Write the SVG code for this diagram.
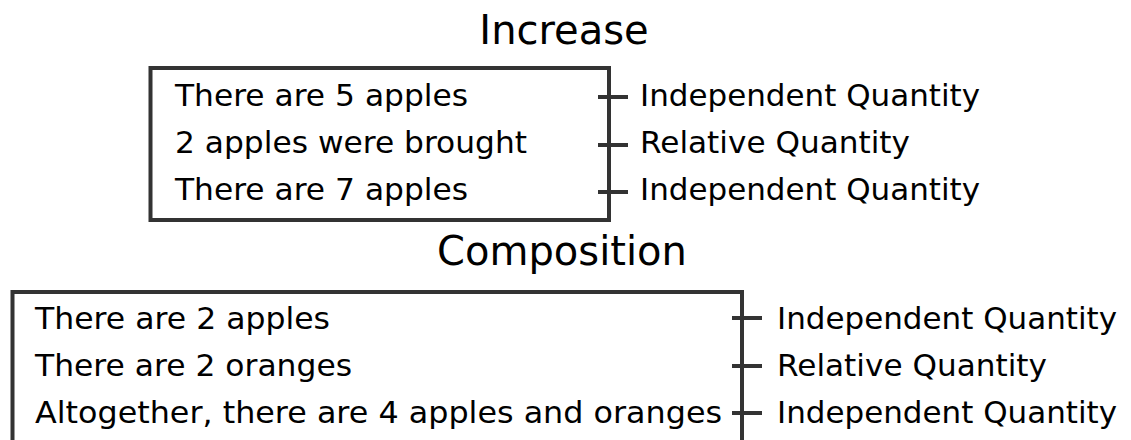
<svg xmlns="http://www.w3.org/2000/svg" width="1131" height="440" viewBox="0 0 1131 440">
  <style>
    .t { font-family: "DejaVu Sans", Verdana, sans-serif; fill: #000; }
    .title { font-size: 40px; text-anchor: middle; }
    .body { font-size: 31px; }
    .box { fill: #fff; stroke: #333; stroke-width: 4; }
    .tick { stroke: #333; stroke-width: 4; fill: none; }
  </style>
  <rect width="1131" height="440" fill="#fff"/>

  <g id="title-increase"><text class="t title" x="564" y="44">Increase</text></g>

  <g id="box-increase">
    <rect class="box" x="150.5" y="68" width="458.5" height="152"/>
    <text class="t body" x="175" y="106" textLength="293" lengthAdjust="spacingAndGlyphs">There are 5 apples</text>
    <text class="t body" x="175" y="153" textLength="352" lengthAdjust="spacingAndGlyphs">2 apples were brought</text>
    <text class="t body" x="175" y="200" textLength="293" lengthAdjust="spacingAndGlyphs">There are 7 apples</text>
  </g>

  <g id="label-inc-1"><text class="t body" x="640" y="106" textLength="340" lengthAdjust="spacingAndGlyphs">Independent Quantity</text></g>
  <g id="label-inc-2"><text class="t body" x="640" y="153" textLength="270" lengthAdjust="spacingAndGlyphs">Relative Quantity</text></g>
  <g id="label-inc-3"><text class="t body" x="640" y="200" textLength="340" lengthAdjust="spacingAndGlyphs">Independent Quantity</text></g>

  <g id="title-composition"><text class="t title" x="562" y="265">Composition</text></g>

  <g id="box-composition">
    <rect class="box" x="12.5" y="292" width="729.5" height="170"/>
    <text class="t body" x="35" y="329" textLength="295" lengthAdjust="spacingAndGlyphs">There are 2 apples</text>
    <text class="t body" x="35" y="376" textLength="317" lengthAdjust="spacingAndGlyphs">There are 2 oranges</text>
    <text class="t body" x="35" y="423" textLength="687" lengthAdjust="spacingAndGlyphs">Altogether, there are 4 apples and oranges</text>
  </g>

  <g id="label-comp-1"><text class="t body" x="777" y="329" textLength="340" lengthAdjust="spacingAndGlyphs">Independent Quantity</text></g>
  <g id="label-comp-2"><text class="t body" x="777" y="376" textLength="270" lengthAdjust="spacingAndGlyphs">Relative Quantity</text></g>
  <g id="label-comp-3"><text class="t body" x="777" y="423" textLength="340" lengthAdjust="spacingAndGlyphs">Independent Quantity</text></g>

  <g id="connectors">
    <line class="tick" x1="598" y1="97" x2="628" y2="97"/>
    <line class="tick" x1="598" y1="145" x2="628" y2="145"/>
    <line class="tick" x1="598" y1="192" x2="628" y2="192"/>
    <line class="tick" x1="732" y1="318" x2="762" y2="318"/>
    <line class="tick" x1="732" y1="366" x2="762" y2="366"/>
    <line class="tick" x1="732" y1="413" x2="762" y2="413"/>
  </g>
</svg>
